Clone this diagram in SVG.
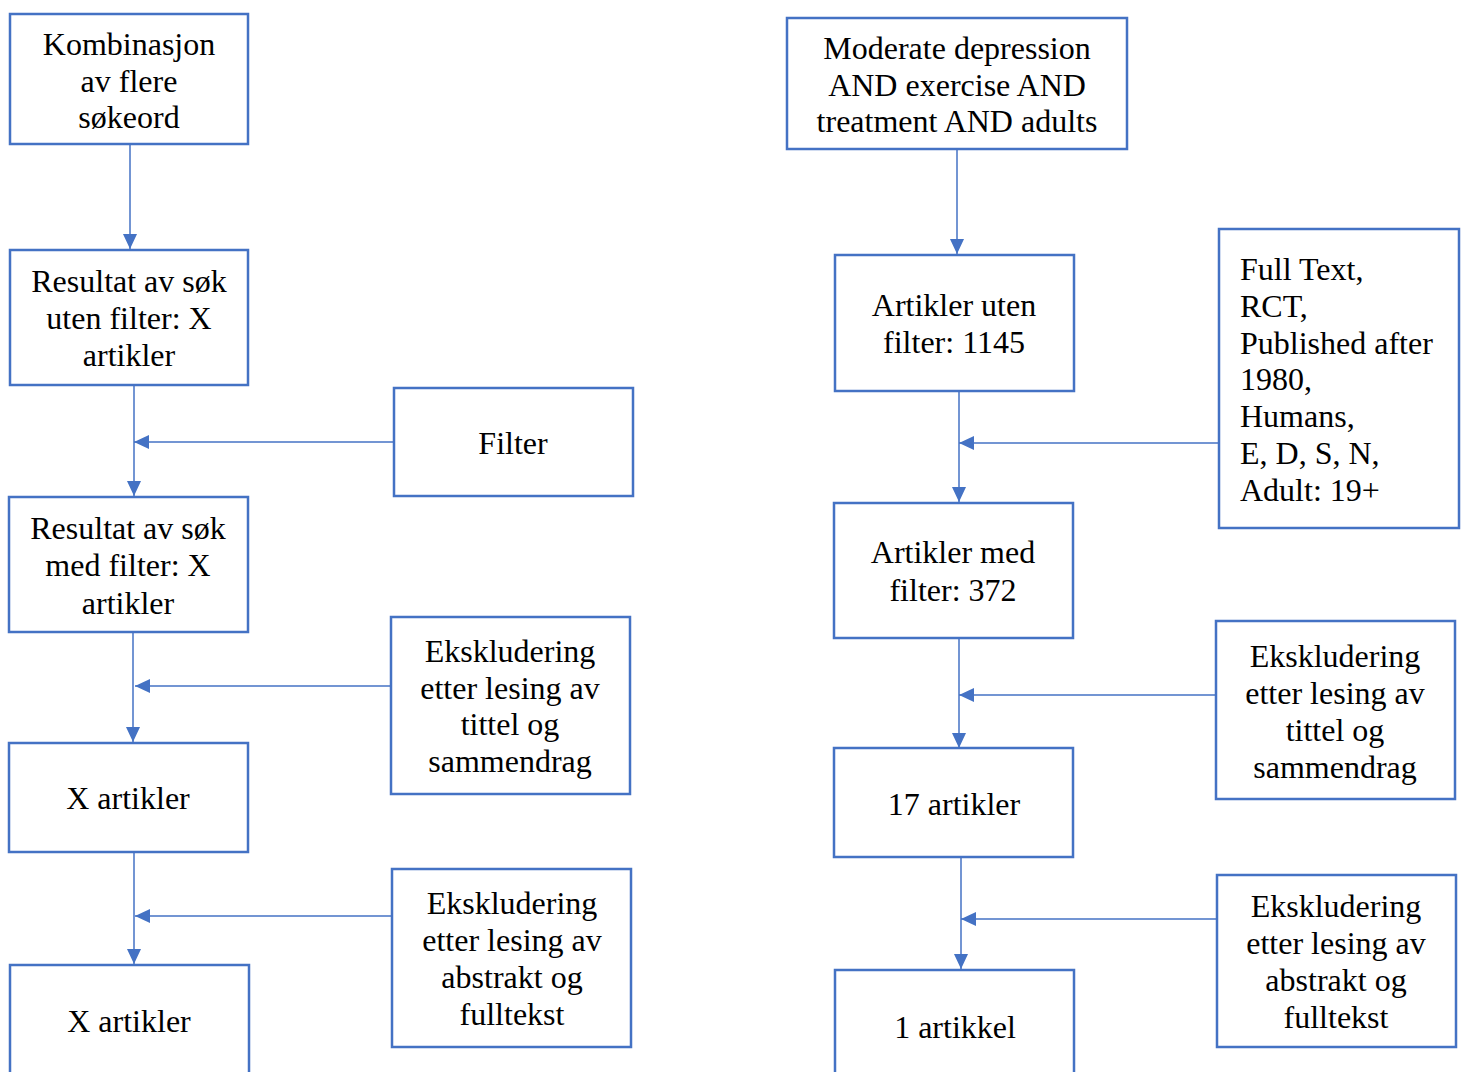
<svg xmlns="http://www.w3.org/2000/svg" width="1468" height="1072" viewBox="0 0 1468 1072">
<style>
.box{fill:#fff;stroke:#4472C4;stroke-width:2.5}
.t{font-family:"Liberation Serif","Times New Roman",serif;font-size:32px;fill:#000;text-anchor:middle}
.tl{font-family:"Liberation Serif","Times New Roman",serif;font-size:32px;fill:#000}
.c{stroke:#4472C4;stroke-width:1.5;fill:none;marker-end:url(#ah)}
</style>
<defs>
<marker id="ah" viewBox="0 0 15 14" refX="15" refY="7" markerWidth="15" markerHeight="14" markerUnits="userSpaceOnUse" orient="auto">
<path d="M0,0 L15,7 L0,14 Z" fill="#4472C4"/>
</marker>
</defs>
<g id="connectors">
<line class="c" x1="130" y1="145" x2="130" y2="249"/>
<line class="c" x1="134" y1="386" x2="134" y2="496"/>
<line class="c" x1="393" y1="442" x2="134" y2="442"/>
<line class="c" x1="133" y1="633" x2="133" y2="742"/>
<line class="c" x1="390" y1="686" x2="135" y2="686"/>
<line class="c" x1="134" y1="853" x2="134" y2="964"/>
<line class="c" x1="391" y1="916" x2="135" y2="916"/>
<line class="c" x1="957" y1="150" x2="957" y2="254"/>
<line class="c" x1="959" y1="392" x2="959" y2="502"/>
<line class="c" x1="1219" y1="443" x2="959" y2="443"/>
<line class="c" x1="959" y1="639" x2="959" y2="748"/>
<line class="c" x1="1216" y1="695" x2="959" y2="695"/>
<line class="c" x1="961" y1="858" x2="961" y2="969"/>
<line class="c" x1="1217" y1="919" x2="961" y2="919"/>
</g>
<g id="n1"><rect class="box" x="10" y="14" width="238" height="130"/>
<text class="t" x="129" y="55">Kombinasjon</text><text class="t" x="129" y="92">av flere</text><text class="t" x="129" y="128">søkeord</text></g>
<g id="n2"><rect class="box" x="10" y="250" width="238" height="135"/>
<text class="t" x="129" y="292">Resultat av søk</text><text class="t" x="129" y="329">uten filter: X</text><text class="t" x="129" y="366">artikler</text></g>
<g id="n3"><rect class="box" x="394" y="388" width="239" height="108"/>
<text class="t" x="513" y="454">Filter</text></g>
<g id="n4"><rect class="box" x="9" y="497" width="239" height="135"/>
<text class="t" x="128" y="539">Resultat av søk</text><text class="t" x="128" y="576">med filter: X</text><text class="t" x="128" y="614">artikler</text></g>
<g id="n5"><rect class="box" x="391" y="617" width="239" height="177"/>
<text class="t" x="510" y="662">Ekskludering</text><text class="t" x="510" y="699">etter lesing av</text><text class="t" x="510" y="735">tittel og</text><text class="t" x="510" y="772">sammendrag</text></g>
<g id="n6"><rect class="box" x="9" y="743" width="239" height="109"/>
<text class="t" x="128" y="809">X artikler</text></g>
<g id="n7"><rect class="box" x="392" y="869" width="239" height="178"/>
<text class="t" x="512" y="914">Ekskludering</text><text class="t" x="512" y="951">etter lesing av</text><text class="t" x="512" y="988">abstrakt og</text><text class="t" x="512" y="1025">fulltekst</text></g>
<g id="n8"><rect class="box" x="10" y="965" width="239" height="120"/>
<text class="t" x="129" y="1032">X artikler</text></g>
<g id="n9"><rect class="box" x="787" y="18" width="340" height="131"/>
<text class="t" x="957" y="59">Moderate depression</text><text class="t" x="957" y="96">AND exercise AND</text><text class="t" x="957" y="132">treatment AND adults</text></g>
<g id="n10"><rect class="box" x="835" y="255" width="239" height="136"/>
<text class="t" x="954" y="316">Artikler uten</text><text class="t" x="954" y="353">filter: 1145</text></g>
<g id="n11"><rect class="box" x="1219" y="229" width="240" height="299"/>
<text class="tl" x="1240" y="280">Full Text,</text><text class="tl" x="1240" y="317">RCT,</text><text class="tl" x="1240" y="354">Published after</text><text class="tl" x="1240" y="390">1980,</text><text class="tl" x="1240" y="427">Humans,</text><text class="tl" x="1240" y="464">E, D, S, N,</text><text class="tl" x="1240" y="501">Adult: 19+</text></g>
<g id="n12"><rect class="box" x="834" y="503" width="239" height="135"/>
<text class="t" x="953" y="563">Artikler med</text><text class="t" x="953" y="601">filter: 372</text></g>
<g id="n13"><rect class="box" x="1216" y="621" width="239" height="178"/>
<text class="t" x="1335" y="667">Ekskludering</text><text class="t" x="1335" y="704">etter lesing av</text><text class="t" x="1335" y="741">tittel og</text><text class="t" x="1335" y="778">sammendrag</text></g>
<g id="n14"><rect class="box" x="834" y="748" width="239" height="109"/>
<text class="t" x="954" y="815">17 artikler</text></g>
<g id="n15"><rect class="box" x="1217" y="875" width="239" height="172"/>
<text class="t" x="1336" y="917">Ekskludering</text><text class="t" x="1336" y="954">etter lesing av</text><text class="t" x="1336" y="991">abstrakt og</text><text class="t" x="1336" y="1028">fulltekst</text></g>
<g id="n16"><rect class="box" x="835" y="970" width="239" height="120"/>
<text class="t" x="955" y="1038">1 artikkel</text></g>
</svg>
